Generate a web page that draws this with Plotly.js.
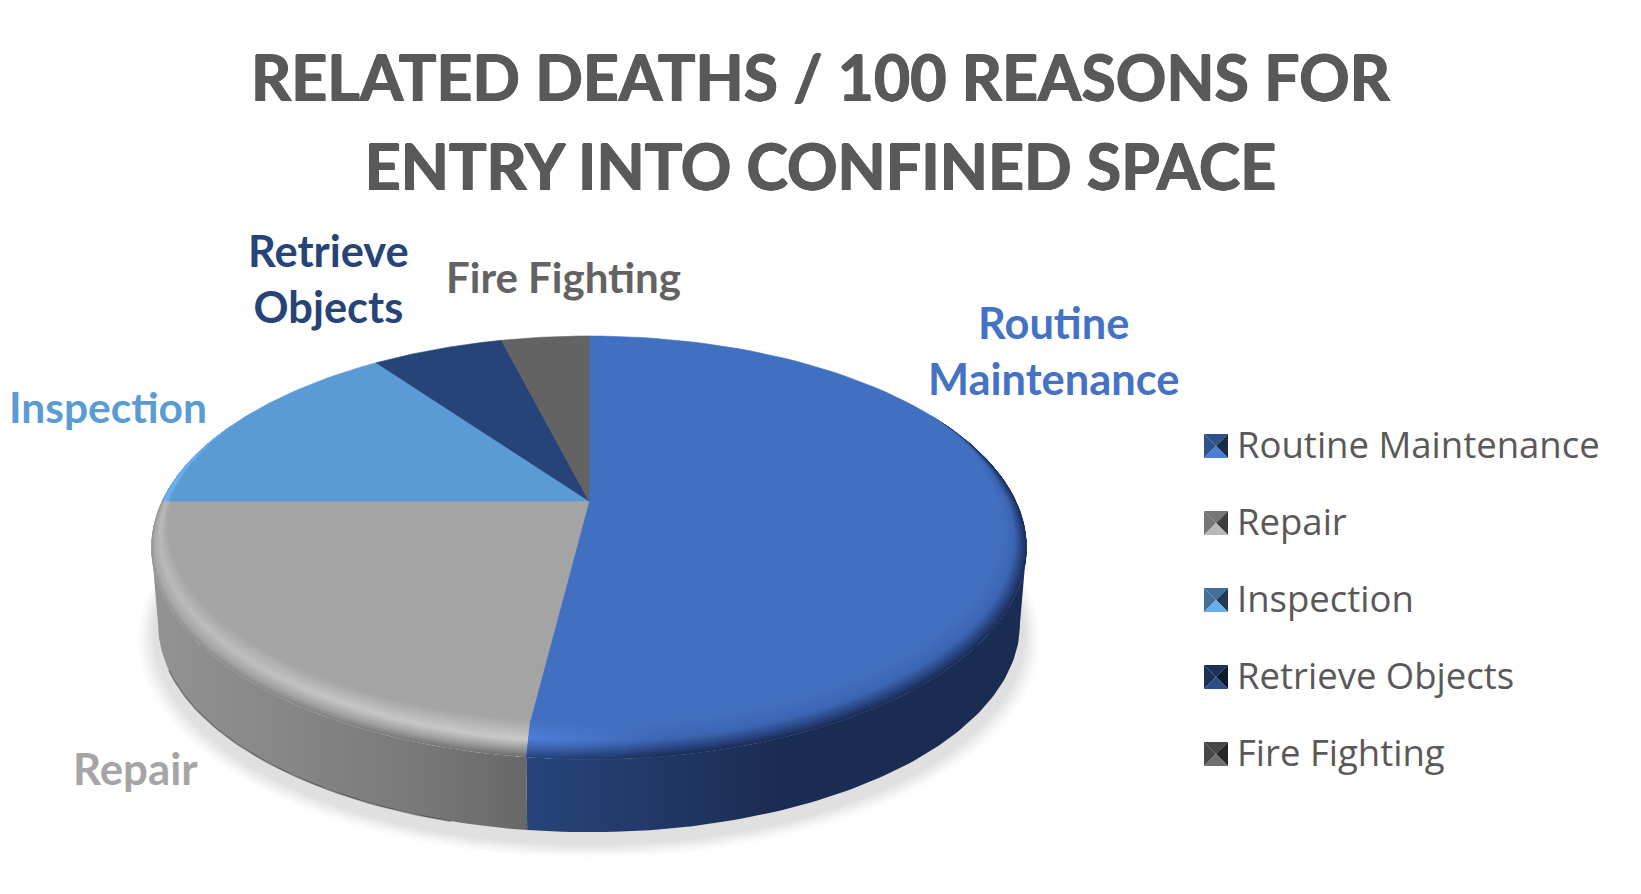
<!DOCTYPE html>
<html><head><meta charset="utf-8">
<script src="https://cdn.plot.ly/plotly-3.0.1.min.js"></script>
<style>html,body{margin:0;padding:0;background:#fff;overflow:hidden}</style></head>
<body><div id="chart" style="width:1641px;height:894px"></div>
<script>
const categories = ["Routine Maintenance","Repair","Inspection","Retrieve Objects","Fire Fighting"];
const values = [52,23,15,6,4];
const colors = ["#4270C0","#A4A4A4","#5B9BD5","#264478","#636363"];
const labelText = ["Routine<br>Maintenance","Repair","Inspection","Retrieve<br>Objects","Fire Fighting"];
const labelX = [1053,135,108,328,563];
const labelY = [350,768,406,278,277];
const labelSizes = [43.4,43.8,42.5,43.4,42];
const labelColors = ["#4472C4","#A5A5A5","#5B9BD5","#264478","#636363"];
const titleLines = ["RELATED DEATHS / 100 REASONS FOR","ENTRY INTO CONFINED SPACE"];

// projection of the tilted disc into plot coordinates
const X0=589, Y0=501, A=201.3, B=426.8, K=0.22, WALL_S=0.985, WALL_D=77, EDGE_BEND=0.6;
function pt(r,deg,s=1,d=0){
  const t=deg*Math.PI/180, u=r*Math.sin(t), v=r*Math.cos(t), w=1+K*v;
  return [X0+s*B*u/w, Y0+d-s*A*v/w];
}
const total=values.reduce((a,b)=>a+b,0);
let acc=0; const spans=values.map(v=>{const a=acc*360/total; acc+=v; return [a,acc*360/total];});
function range(a,b,n){const o=[];for(let i=0;i<=n;i++)o.push(a+(b-a)*i/n);return o;}
function poly(points,extra){return Object.assign({type:'scatter',mode:'lines',x:points.map(p=>p[0]),y:points.map(p=>p[1]),
  fill:'toself',line:{width:0},hoverinfo:'skip',showlegend:false},extra);}
const traces=[];

// soft shadow
const shadowSteps=16;
for(let i=0;i<shadowSteps;i++){
  const f=i/(shadowSteps-1), s=1.035-0.04*f, g=Math.round(255-31*Math.pow(f,1.2));
  const pts=range(0,360,120).map(a=>pt(1,a,s,WALL_D+14-4*f));
  traces.push(poly(pts,{fillcolor:`rgb(${g},${g},${g})`}));
}

// side wall, closed at the widest points of the disc
const WIDE=Math.acos(-K)*180/Math.PI;
const walls=[
 {a:WIDE,b:spans[0][1]-EDGE_BEND,scale:[[0,'#274479'],[0.22,'#223a6b'],[0.5,'#1b2c52'],[1,'#1b2c52']]},
 {a:spans[1][0]-EDGE_BEND,b:360-WIDE,scale:[[0,'#939393'],[0.4,'#858585'],[0.72,'#787878'],[1,'#676767']]}
];
walls.forEach(w=>{
  const top=range(w.a,w.b,90).map(a=>pt(1,a));
  const bot=range(w.b,w.a,90).map(a=>pt(1,a,WALL_S,WALL_D));
  const all=top.concat(bot), xs=all.map(p=>p[0]);
  traces.push(poly(all,{fillgradient:{type:'horizontal',colorscale:w.scale,start:Math.min(...xs),stop:Math.max(...xs)}}));
});
// bottom edge fringe
const fringe=range(195,spans[1][1]-25,50).map(a=>pt(1,a,WALL_S,WALL_D));
traces.push({type:'scatter',mode:'lines',x:fringe.map(p=>p[0]),y:fringe.map(p=>p[1]),
  line:{color:'rgba(40,40,40,0.45)',width:1.5},hoverinfo:'skip',showlegend:false});

// top faces
categories.forEach((c,i)=>{
  const pts=[[X0,Y0]].concat(range(spans[i][0],spans[i][1],90).map(a=>pt(1,a)));
  pts.push([X0,Y0]);
  traces.push(poly(pts,{fillcolor:colors[i],line:{color:colors[i],width:0.6},name:c}));
});

// rounded rim
function rimW(a){
  if(a<=180+7.2){ const base=0.045+0.071*(-Math.cos(a*Math.PI/180));
    if(a<90){const t=Math.max(0,(a-62)/28);return 0.045*t*t*(3-2*t);} return base;}
  const base=0.02+0.096*Math.max(0,-Math.cos(a*Math.PI/180));
  if(a>270){const t=Math.max(0,1-(a-270)/24);return 0.02*t;}
  return base;
}
function hex(c){return [1,3,5].map(i=>parseInt(c.substr(i,2),16));}
function mix(a,b,t){const x=hex(a),y=hex(b);return 'rgb('+x.map((v,i)=>Math.round(v+(y[i]-v)*t)).join(',')+')';}
function prof(stops,t){for(let i=1;i<stops.length;i++){if(t<=stops[i][0]){const s=stops[i-1],e=stops[i];return mix(s[1],e[1],(t-s[0])/(e[0]-s[0]));}}const l=stops[stops.length-1][1];return mix(l,l,0);}
const rims=[
 {a:62,b:spans[0][1],bendB:true,xs:[0,0.28,1],
  profs:[[[0,'#4270C0'],[0.5,'#4f80da'],[0.8,'#3a5ea8'],[1,'#27437a']],
         [[0,'#4270C0'],[0.55,'#3c66b2'],[0.85,'#25407a'],[1,'#1b2c52']],
         [[0,'#4270C0'],[0.55,'#3c66b2'],[0.85,'#25407a'],[1,'#1b2c52']]]},
 {a:spans[1][0],b:spans[1][1],bendA:true,xs:[0,0.5,1],
  profs:[[[0,'#A4A4A4'],[0.5,'#b9b9b9'],[0.85,'#a8a8a8'],[1,'#939393']],
         [[0,'#A4A4A4'],[0.5,'#c6c6c6'],[0.8,'#a2a2a2'],[1,'#7e7e7e']],
         [[0,'#A4A4A4'],[0.55,'#cacaca'],[0.82,'#949494'],[1,'#6c6c6c']]]},
 {a:spans[2][0],b:spans[2][0]+24,xs:[0,1],
  profs:[[[0,'#5B9BD5'],[0.6,'#6cb2f2'],[1,'#63a6e4']],
         [[0,'#5B9BD5'],[0.6,'#6cb2f2'],[1,'#63a6e4']]]}
];
const RINGS=22;
rims.forEach(R=>{
  for(let j=0;j<RINGS;j++){
    const f0=j/RINGS,fm=(j+0.5)/RINGS;
    const ang=range(R.a-(R.bendA?EDGE_BEND*f0:0),R.b-(R.bendB?EDGE_BEND*f0:0),110);
    const outer=ang.map(a=>pt(1,a));
    const inner=ang.slice().reverse().map(a=>pt(1-rimW(a)*(1-f0),a));
    const all=outer.concat(inner), xs=all.map(p=>p[0]);
    traces.push(poly(all,{fillgradient:{type:'horizontal',start:Math.min(...xs),stop:Math.max(...xs),
      colorscale:R.xs.map((x,k)=>[x,prof(R.profs[k],fm)])}}));
  }
});

// legend entries
categories.forEach((c,i)=>traces.push({type:'scatter',mode:'markers',x:[null],y:[null],name:c,legendgroup:'g'+i,showlegend:true,
  marker:{symbol:'square',size:24,color:'rgba(0,0,0,0)'},hoverinfo:'skip'}));

// bevelled legend swatches
const swTones={top:0.72,left:0.72,right:0.38,bottom:1.12};
function tone(c,t){const v=hex(c).map(x=>Math.min(255,Math.round(x*t)));return `rgb(${v.join(',')})`;}
const shapes=[];
categories.forEach((c,i)=>{
  const x=1204,y=434+77*i,s=24,m=s/2;
  const tri=(p,t)=>shapes.push({type:'path',xref:'x',yref:'y',layer:'above',line:{width:0},fillcolor:tone(colors[i],t),
    path:`M${p[0][0]},${p[0][1]}L${p[1][0]},${p[1][1]}L${p[2][0]},${p[2][1]}Z`});
  tri([[x,y],[x+s,y],[x+m,y+m]],swTones.top);
  tri([[x,y],[x,y+s],[x+m,y+m]],swTones.left);
  tri([[x+s,y],[x+s,y+s],[x+m,y+m]],swTones.right);
  tri([[x,y+s],[x+s,y+s],[x+m,y+m]],swTones.bottom);
});

const FONT="Lato, Carlito, sans-serif";
const annotations=labelText.map((t,i)=>({x:labelX[i],y:labelY[i],xref:'x',yref:'y',text:t,showarrow:false,xanchor:'center',yanchor:'middle',
  font:{family:FONT,size:labelSizes[i],color:labelColors[i],weight:700}}));

const titleText=titleLines.map(l=>`<span style="font-size:62.6px">${l}</span>`).join('<br>');
Plotly.newPlot('chart',traces,{
  width:1641,height:894,margin:{l:0,r:0,t:0,b:0,pad:0},paper_bgcolor:'#fff',plot_bgcolor:'#fff',
  title:{text:titleText,x:0.5,xanchor:'center',y:1-100.5/894,yanchor:'middle',yref:'container',font:{family:FONT,size:68.5,color:'#595959',weight:700,shadow:'0.7px 0 0 #595959, -0.7px 0 0 #595959, 0 0.7px 0 #595959, 0 -0.7px 0 #595959'}},
  xaxis:{range:[0,1641],visible:false,fixedrange:true},
  yaxis:{range:[894,0],visible:false,fixedrange:true},
  showlegend:true,
  legend:{x:1197/1641,xanchor:'left',y:1-413.7/894,yanchor:'top',bgcolor:'rgba(0,0,0,0)',font:{family:"'Open Sans', sans-serif",size:36.5,color:'#595959'},
    tracegroupgap:26.55,itemsizing:'constant',itemwidth:30,itemclick:false,itemdoubleclick:false},
  annotations,shapes
},{displayModeBar:false,staticPlot:true});
</script></body></html>
